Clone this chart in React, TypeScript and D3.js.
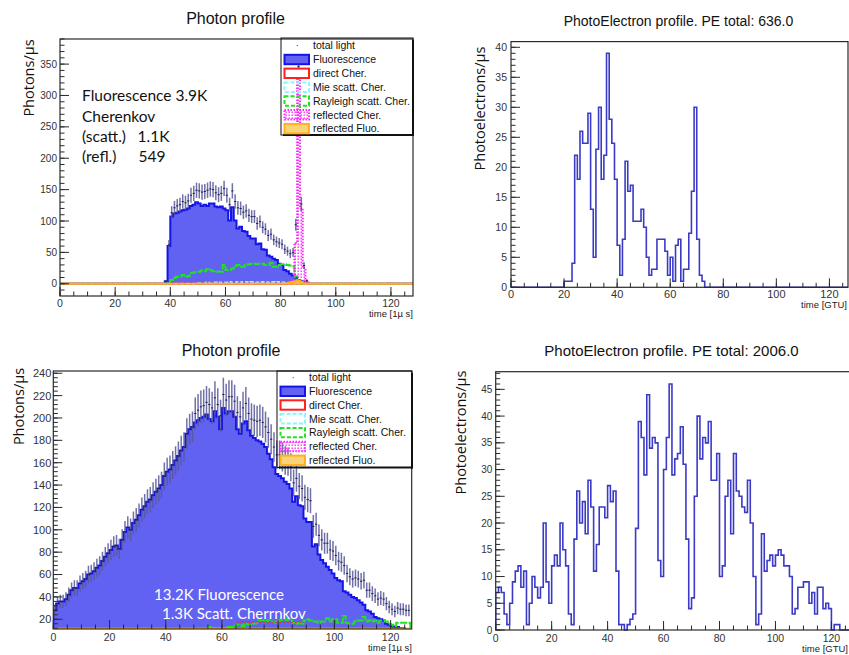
import React from "react";
import * as d3 from "d3";

// ---------------- DATA ----------------
// Top-left "Photon profile" (bins of 1 µs, values per bin)
const tlFluoStart = 38;
const tlFluo = [4, 60, 107, 112, 113, 115, 117, 118, 120, 124, 126, 130, 128, 124, 126, 124, 128, 128, 123, 122, 123, 120, 117, 101, 122, 101, 88, 91, 84, 83, 76, 72, 72, 63, 64, 55, 54, 45, 43, 40, 38, 32, 30, 22, 20, 16, 13, 10, 6, 4, 3, 1];
const tlRayStart = 39;
const tlRay = [2, 6, 9, 11, 11, 14, 11, 12, 17, 18, 19, 19, 21, 20, 23, 22, 20, 20, 19, 19, 30, 22, 22, 24, 28, 30, 27, 27, 30, 31, 32, 32, 31, 32, 32, 30, 30, 33, 27, 27, 30, 31, 31, 30, 29, 28, 12, 3];
const tlMieStart = 50;
const tlMie = [1, 1, 1, 2, 1, 2, 2, 1, 2, 2, 2, 3, 2, 2, 3, 2, 3, 3, 2, 3, 3, 2, 3, 3, 3, 2, 3, 3, 2, 3, 2, 2, 1, 1];
const tlDirStart = 84;
const tlDir = [1, 3, 2];
const tlReflCherStart = 84;
const tlReflCher = [5, 65, 330, 120, 25, 4];
const tlReflFluoStart = 82;
const tlReflFluo = [1, 2, 3, 4, 5, 3, 1];

// Bottom-left "Photon profile"
const blFluo = [28, 34, 36, 36, 38, 42, 46, 48, 48, 52, 54, 56, 60, 61, 63, 66, 68, 72, 76, 79, 82, 85, 86, 83, 91, 98, 102, 100, 106, 109, 113, 118, 121, 125, 127, 131, 134, 137, 140, 148, 152, 154, 158, 162, 166, 171, 174, 186, 190, 192, 196, 198, 200, 201, 203, 199, 197, 206, 201, 190, 209, 204, 206, 206, 201, 190, 186, 195, 197, 189, 184, 182, 180, 179, 177, 174, 168, 163, 156, 150, 148, 146, 143, 141, 137, 125, 130, 122, 121, 110, 107, 107, 85, 87, 78, 73, 70, 67, 64, 61, 57, 55, 54, 45, 44, 42, 40, 39, 37, 35, 33, 28, 27, 25, 22, 21, 20, 19, 16, 15, 14, 13, 13, 12, 12, 11, 11];
const blRayStart = 50;
const blRay = [8, 9, 10, 10, 11, 13, 12, 12, 11, 12, 12, 12, 13, 13, 14, 15, 15, 14, 16, 15, 15, 16, 17, 19, 19, 18, 19, 18, 18, 17, 19, 19, 19, 20, 19, 17, 16, 17, 16, 19, 20, 19, 18, 18, 17, 18, 18, 21, 18, 20, 20, 17, 17, 23, 17, 16, 16, 18, 19, 19, 22, 18, 19, 18, 19, 17, 19, 19, 18, 16, 15, 14, 17, 17, 17, 17, 17];

// Top-right PhotoElectron profile (PE total 636)
const trPEStart = 20;
const trPE = [1, 1, 1, 4, 22, 18, 26, 24, 24, 29, 13, 5, 23, 30, 18, 22, 39, 28, 24, 18, 7, 2, 8, 21, 16, 17, 11, 11, 11, 13, 10, 5, 2, 3, 3, 8, 8, 8, 6, 2, 5, 1, 7, 8, 1, 3, 3, 9, 16, 30, 8, 2, 1];

// Bottom-right PhotoElectron profile (PE total 2006)
const brPE = [7, 8, 7, 3, 1, 5, 9, 11, 12, 8, 11, 1, 5, 10, 8, 6, 8, 20, 9, 5, 12, 14, 12, 20, 15, 12, 3, 1, 17, 26, 20, 24, 18, 28, 23, 11, 16, 23, 23, 21, 27, 24, 26, 11, 1, 1, 0, 1, 2, 3, 19, 39, 36, 29, 44, 34, 36, 35, 13, 10, 30, 36, 46, 29, 32, 33, 38, 31, 17, 4, 6, 25, 40, 32, 36, 35, 39, 28, 28, 33, 10, 12, 25, 28, 18, 33, 26, 25, 23, 22, 28, 20, 10, 1, 3, 18, 11, 13, 14, 12, 14, 15, 14, 12, 12, 10, 3, 4, 8, 8, 9, 9, 5, 7, 3, 8, 8, 4, 5, 4, 0, 1, 1, 0];

const legendLabels = ["total light", "Fluorescence", "direct Cher.", "Mie scatt. Cher.", "Rayleigh scatt. Cher.", "reflected Cher.", "reflected Fluo."];
const titles = ["Photon profile", "PhotoElectron profile. PE total: 636.0", "Photon profile", "PhotoElectron profile. PE total: 2006.0"];
const yTitles = ["Photons/\u00b5s", "Photoelectrons/\u00b5s"];
const xTitles = ["time [1\u00b5 s]", "time [GTU]"];
const tlNotes = ["Fluorescence 3.9K", "Cherenkov", "(scatt.)", "1.1K", "(refl.)", "549"];
const blNotes = ["13.2K Fluorescence", "1.3K Scatt. Cherrnkov"];

// ---------------- HELPERS ----------------
type Sc = d3.ScaleLinear<number, number>;
const ROOTFONT = "'Liberation Sans', Arial, sans-serif";
const NOTEFONT = "Lato, 'Open Sans', sans-serif";
const LABFONT = "'Open Sans', sans-serif";

const C = {
  fluoFill: "#6262f2",
  fluoLine: "#1414e6",
  red: "#ff2020",
  cyan: "#8cf6ff",
  green: "#22e022",
  magenta: "#ff22ff",
  orangeFill: "#f9d37a",
  orangeLine: "#ffb21e",
  pe: "#3a3ac6",
  frame: "#2a2a2a",
  tick: "#333",
  err: "#58589a",
  errH: "#1c1c50",
};

function full(n: number, start: number, vals: number[]) {
  return Array.from({ length: n }, (_, i) => (i >= start && i < start + vals.length ? vals[i - start] : 0));
}

function stepD(vals: number[], x: Sc, y: Sc, closed: boolean) {
  const pts: [number, number][] = [];
  const y0 = y(0);
  pts.push([x(0), y0]);
  vals.forEach((v, i) => {
    pts.push([x(i), y(v)]);
    pts.push([x(i + 1), y(v)]);
  });
  pts.push([x(vals.length), y0]);
  return (d3.line()(pts) || "") + (closed ? "Z" : "");
}

function Hist(p: { vals: number[]; x: Sc; y: Sc; fill?: string; stroke: string; sw: number; dash?: string }) {
  return (
    <path
      d={stepD(p.vals, p.x, p.y, !!p.fill)}
      fill={p.fill || "none"}
      stroke={p.stroke}
      strokeWidth={p.sw}
      strokeDasharray={p.dash}
      strokeLinejoin="miter"
    />
  );
}

function ErrPts(p: { vals: number[]; x: Sc; y: Sc }) {
  return (
    <g>
      {p.vals.map((v, i) =>
        v > 0 ? (
          <g key={i}>
            <line x1={p.x(i + 0.5)} x2={p.x(i + 0.5)} y1={p.y(v - Math.sqrt(v))} y2={p.y(v + Math.sqrt(v))} stroke={C.err} strokeWidth={1.5} strokeOpacity={0.85} />
            <line x1={p.x(i + 0.1)} x2={p.x(i + 0.9)} y1={p.y(v)} y2={p.y(v)} stroke={C.errH} strokeWidth={1} />
          </g>
        ) : null
      )}
    </g>
  );
}

function Axes(p: {
  x: Sc; y: Sc; xMaj: number; xMin: number; yMaj: number; yMin: number;
  yfs: number; xfs: number; xLabDy: number; yLabDx: number;
}) {
  const { x, y } = p;
  const [, xb] = x.domain();
  const [ya, yb] = y.domain();
  const [l, r] = x.range();
  const [b, t] = y.range();
  const xMajT = d3.range(0, xb + 1e-9, p.xMaj);
  const xMinT = d3.range(0, xb + 1e-9, p.xMin);
  const yMajT = d3.range(Math.ceil(ya / p.yMaj - 1e-9) * p.yMaj, yb + 1e-9, p.yMaj);
  const yMinT = d3.range(Math.ceil(ya / p.yMin - 1e-9) * p.yMin, yb + 1e-9, p.yMin);
  const majL = 9, minL = 4.5;
  return (
    <g>
      {xMinT.map((v) => (
        <line key={"xm" + v} x1={x(v)} x2={x(v)} y1={b} y2={b - minL} stroke={C.frame} strokeWidth={1} />
      ))}
      {xMajT.map((v) => (
        <line key={"xM" + v} x1={x(v)} x2={x(v)} y1={b} y2={b - majL} stroke={C.frame} strokeWidth={1} />
      ))}
      {yMinT.map((v) => (
        <line key={"ym" + v} x1={l} x2={l + minL} y1={y(v)} y2={y(v)} stroke={C.frame} strokeWidth={1} />
      ))}
      {yMajT.map((v) => (
        <line key={"yM" + v} x1={l} x2={l + majL} y1={y(v)} y2={y(v)} stroke={C.frame} strokeWidth={1} />
      ))}
      <rect x={l} y={t} width={r - l} height={b - t} fill="none" stroke={C.frame} strokeWidth={1.2} />
      {xMajT.map((v) => (
        <text key={"xl" + v} x={x(v)} y={b + p.xLabDy} textAnchor="middle" fontSize={p.xfs} fontFamily={ROOTFONT} fill={C.tick}>
          {v}
        </text>
      ))}
      {yMajT.map((v) => (
        <text key={"yl" + v} x={l - p.yLabDx} y={y(v)} dy="0.36em" textAnchor="end" fontSize={p.yfs} fontFamily={ROOTFONT} fill={C.tick}>
          {v}
        </text>
      ))}
    </g>
  );
}

function Legend(p: { x0: number; y0: number; x1: number; y1: number; rows: number[] }) {
  const sx0 = p.x0 + 3.5, sx1 = p.x0 + 28, h = 9.4;
  const tx = p.x0 + 32;
  const sym = (i: number, cy: number) => {
    const r = { x: sx0, y: cy - h / 2, width: sx1 - sx0, height: h };
    switch (i) {
      case 0:
        return <line x1={(sx0 + sx1) / 2} x2={(sx0 + sx1) / 2 + 1} y1={cy} y2={cy} stroke="#333" strokeWidth={1} />;
      case 1:
        return <rect {...r} fill={C.fluoFill} stroke={C.fluoLine} strokeWidth={2} />;
      case 2:
        return <rect {...r} fill="#fff" stroke={C.red} strokeWidth={2} />;
      case 3:
        return <rect {...r} fill="none" stroke={C.cyan} strokeWidth={2} strokeDasharray="4,2" />;
      case 4:
        return <rect {...r} fill="none" stroke={C.green} strokeWidth={2} strokeDasharray="4,2" />;
      case 5:
        return <rect {...r} fill="url(#dots)" stroke={C.magenta} strokeWidth={2} strokeDasharray="1.5,1.5" />;
      default:
        return <rect {...r} fill={C.orangeFill} stroke={C.orangeLine} strokeWidth={2} />;
    }
  };
  return (
    <g>
      <rect x={p.x0} y={p.y0} width={p.x1 - p.x0} height={p.y1 - p.y0} fill="none" stroke="#111" strokeWidth={1} />
      <line x1={p.x1} x2={p.x1} y1={p.y0 + 2} y2={p.y1 + 1} stroke="#111" strokeWidth={2} />
      <line x1={p.x0 + 2} x2={p.x1 + 1} y1={p.y1} y2={p.y1} stroke="#111" strokeWidth={2} />
      {legendLabels.map((lab, i) => (
        <g key={lab}>
          {sym(i, p.rows[i])}
          <text x={tx} y={p.rows[i]} dy="0.36em" fontSize={10.5} fontFamily={ROOTFONT} fill="#111">
            {lab}
          </text>
        </g>
      ))}
    </g>
  );
}

// ---------------- PANELS ----------------
function TopLeft() {
  const x = d3.scaleLinear().domain([0, 128]).range([60, 413]);
  const y = d3.scaleLinear().domain([-19.5, 390]).range([296, 39]).clamp(true);
  const n = 128;
  const fluo = full(n, tlFluoStart, tlFluo);
  const ray = full(n, tlRayStart, tlRay);
  const mie = full(n, tlMieStart, tlMie);
  const dir = full(n, tlDirStart, tlDir);
  const rc = full(n, tlReflCherStart, tlReflCher);
  const rf = full(n, tlReflFluoStart, tlReflFluo);
  const total = fluo.map((v, i) => v + ray[i] + mie[i] + dir[i] + rc[i] + rf[i]);
  const rows = [45.5, 59.5, 73.3, 87.2, 101, 114.8, 128.6];
  return (
    <g>
      <defs>
        <clipPath id="clipTL">
          <rect x={60} y={39} width={353} height={257} />
        </clipPath>
      </defs>
      <text x={235.5} y={24} textAnchor="middle" fontSize={16} fontFamily={ROOTFONT} fill="#111">{titles[0]}</text>
      <g clipPath="url(#clipTL)">
        <Hist vals={fluo} x={x} y={y} fill={C.fluoFill} stroke={C.fluoLine} sw={2} />
        <Hist vals={dir} x={x} y={y} stroke={C.red} sw={2} />
        <Hist vals={mie} x={x} y={y} stroke={C.cyan} sw={2} dash="4,2" />
        <Hist vals={ray} x={x} y={y} stroke={C.green} sw={2} dash="7,1.5" />
        <Hist vals={rc} x={x} y={y} fill="url(#dots)" stroke={C.magenta} sw={2} dash="1.5,1.5" />
        <Hist vals={rf} x={x} y={y} fill={C.orangeFill} stroke={C.orangeLine} sw={2} />
        <ErrPts vals={total} x={x} y={y} />
      </g>
      <Axes x={x} y={y} xMaj={20} xMin={5} yMaj={50} yMin={10} yfs={10} xfs={10.5} xLabDy={10.5} yLabDx={3} />
      <Legend x0={281} y0={38} x1={413} y1={135} rows={rows} />
      <text transform="translate(33.5,78) rotate(-90)" textAnchor="middle" fontSize={14.5} fontFamily={LABFONT} fill="#111">{yTitles[0]}</text>
      <text x={413} y={317} textAnchor="end" fontSize={9.5} fontFamily={ROOTFONT} fill="#222">{xTitles[0]}</text>
      <g fontFamily={NOTEFONT} fontSize={15.5} fill="#111">
        <text x={82} y={101}>{tlNotes[0]}</text>
        <text x={82} y={121.5}>{tlNotes[1]}</text>
        <text x={82} y={142}>{tlNotes[2]}</text>
        <text x={137.5} y={142}>{tlNotes[3]}</text>
        <text x={82} y={162}>{tlNotes[4]}</text>
        <text x={138.5} y={162}>{tlNotes[5]}</text>
      </g>
    </g>
  );
}

function BottomLeft() {
  const x = d3.scaleLinear().domain([0, 127.5]).range([53.3, 411.7]);
  const y = d3.scaleLinear().domain([11.3, 242]).range([629, 371]).clamp(true);
  const n = 127;
  const fluo = blFluo;
  const ray = full(n, blRayStart, blRay);
  const zero = full(n, 0, []);
  const total = fluo.map((v, i) => v + ray[i]);
  const rows = [377.7, 391.3, 405, 418.8, 432.6, 446.5, 460.3];
  const squig: [number, number][] = d3.range(236, 305, 2).map((xx, i) => [xx, i % 2 ? 621 : 623]);
  return (
    <g>
      <defs>
        <clipPath id="clipBL">
          <rect x={53.3} y={371} width={358.4} height={258} />
        </clipPath>
      </defs>
      <text x={231} y={356} textAnchor="middle" fontSize={16} fontFamily={ROOTFONT} fill="#111">{titles[2]}</text>
      <g clipPath="url(#clipBL)">
        <Hist vals={fluo} x={x} y={y} fill={C.fluoFill} stroke={C.fluoLine} sw={2} />
        <Hist vals={ray} x={x} y={y} stroke={C.green} sw={2} dash="7,1.5" />
        <ErrPts vals={total} x={x} y={y} />
        <Hist vals={zero} x={x} y={y} stroke={C.orangeLine} sw={2.5} />
      </g>
      <Axes x={x} y={y} xMaj={20} xMin={5} yMaj={20} yMin={4} yfs={11} xfs={10.5} xLabDy={12} yLabDx={2} />
      <Legend x0={277} y0={371} x1={412} y1={467.5} rows={rows} />
      <text transform="translate(23.5,406.5) rotate(-90)" textAnchor="middle" fontSize={14.5} fontFamily={LABFONT} fill="#111">{yTitles[0]}</text>
      <text x={412} y={651} textAnchor="end" fontSize={9.5} fontFamily={ROOTFONT} fill="#222">{xTitles[0]}</text>
      <g fontFamily={NOTEFONT} fontSize={15} fill="#fff">
        <text x={154} y={600}>{blNotes[0]}</text>
        <text x={162} y={619}>{blNotes[1]}</text>
      </g>
      <path d={d3.line()(squig) || ""} fill="none" stroke="#e03030" strokeWidth={0.8} />
    </g>
  );
}

function PEPanel(p: {
  vals: number[]; l: number; r: number; t: number; b: number; xmax: number; ymax: number;
  title: string; tx: number; ty: number; tfs: number; lx: number; ly: number;
  yfs: number; xfs: number; xLabDy: number; yLabDx: number; xtx: number; xty: number; id: string;
}) {
  const x = d3.scaleLinear().domain([0, p.xmax]).range([p.l, p.r]);
  const y = d3.scaleLinear().domain([0, p.ymax]).range([p.b, p.t]).clamp(true);
  return (
    <g>
      <defs>
        <clipPath id={p.id}>
          <rect x={p.l} y={p.t} width={p.r - p.l} height={p.b - p.t + 1} />
        </clipPath>
      </defs>
      <text x={p.tx} y={p.ty} textAnchor="middle" fontSize={p.tfs} fontFamily={ROOTFONT} fill="#111">{p.title}</text>
      <g clipPath={`url(#${p.id})`}>
        <Hist vals={p.vals} x={x} y={y} stroke={C.pe} sw={1.6} />
      </g>
      <Axes x={x} y={y} xMaj={20} xMin={5} yMaj={5} yMin={1} yfs={p.yfs} xfs={p.xfs} xLabDy={p.xLabDy} yLabDx={p.yLabDx} />
      <text transform={`translate(${p.lx},${p.ly}) rotate(-90)`} textAnchor="middle" fontSize={14.5} fontFamily={LABFONT} fill="#111">{yTitles[1]}</text>
      <text x={p.xtx} y={p.xty} textAnchor="end" fontSize={9.5} fontFamily={ROOTFONT} fill="#222">{xTitles[1]}</text>
    </g>
  );
}

export default function App() {
  const tr = full(128, trPEStart, trPE);
  const br = full(128, 0, brPE);
  return (
    <svg width={849} height={655} style={{ position: "absolute", left: 0, top: 0, background: "#fff" }}>
      <defs>
        <pattern id="dots" width={3} height={3} patternUnits="userSpaceOnUse">
          <rect width={3} height={3} fill="#fff" fillOpacity={0} />
          <rect x={0.5} y={0.5} width={1.4} height={1.4} fill={C.magenta} />
        </pattern>
      </defs>
      <rect width={849} height={655} fill="#fff" />
      <TopLeft />
      <PEPanel id="clipTR" vals={tr} l={511} r={848} t={41.6} b={287.3} xmax={127} ymax={40.95}
        title={titles[1]} tx={678.5} ty={25.5} tfs={14} lx={485} ly={108.5}
        yfs={10.5} xfs={11} xLabDy={10.3} yLabDx={4} xtx={847} xty={307.5} />
      <BottomLeft />
      <PEPanel id="clipBR" vals={br} l={495.7} r={851} t={371.7} b={630} xmax={127} ymax={48.3}
        title={titles[3]} tx={671.5} ty={356} tfs={15} lx={465.5} ly={432.5}
        yfs={10} xfs={10.5} xLabDy={12} yLabDx={3.4} xtx={848} xty={652} />
    </svg>
  );
}
